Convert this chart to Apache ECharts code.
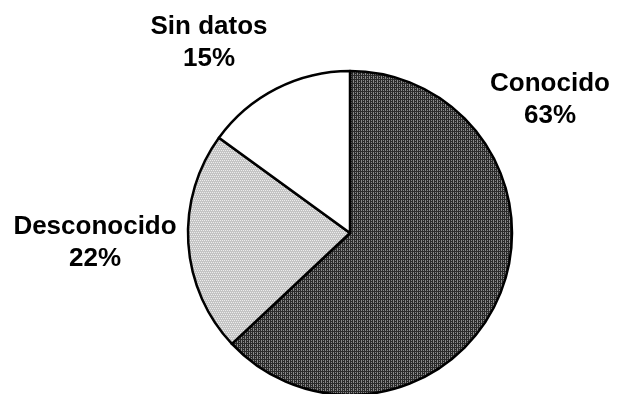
<!DOCTYPE html>
<html>
<head>
<meta charset="utf-8">
<script src="https://cdn.jsdelivr.net/npm/echarts@6/dist/echarts.min.js"></script>
<style>
html,body{margin:0;padding:0;background:#fff;}
#chart{width:618px;height:394px;}
</style>
</head>
<body>
<div id="chart"></div>
<script>
const categories = ['Conocido', 'Desconocido', 'Sin datos'];
const values = [63, 22, 15];

function makePattern(bg, fg, cells) {
  const c = document.createElement('canvas');
  c.width = 4; c.height = 4;
  const ctx = c.getContext('2d');
  ctx.fillStyle = bg; ctx.fillRect(0, 0, 4, 4);
  ctx.fillStyle = fg;
  cells.forEach(p => ctx.fillRect(p[0], p[1], 1, 1));
  return { image: c, repeat: 'repeat' };
}
const fills = [
  makePattern('#2a2a2a', '#8a8a8a', [[1,0],[3,0],[1,2],[3,2],[1,1]]),
  makePattern('#c4c4c4', '#ececec', [[0,0],[2,0],[1,2],[3,2]]),
  '#ffffff'
];
const labelPos = [[550, 100], [95, 243], [209, 43]];

const chart = echarts.init(document.getElementById('chart'), null, {renderer: 'canvas'});
chart.setOption({
  backgroundColor: '#ffffff',
  animation: false,
  series: [{
    type: 'pie',
    center: [350, 233],
    radius: 162,
    startAngle: 90,
    clockwise: true,
    data: categories.map((n, i) => ({
      name: n, value: values[i],
      itemStyle: { color: fills[i] }
    })),
    itemStyle: { borderColor: '#000', borderWidth: 2.5 },
    label: {
      show: true,
      position: 'outside',
      formatter: '{b}\n{d}%',
      fontFamily: 'Liberation Sans, Arial, sans-serif',
      fontWeight: 'bold',
      fontSize: 26,
      lineHeight: 32,
      color: '#000',
      align: 'center',
      overflow: 'none',
      width: 300
    },
    labelLine: { show: false },
    labelLayout: function (p) {
      const pos = labelPos[p.dataIndex];
      return { x: pos[0], y: pos[1], align: 'center', verticalAlign: 'middle' };
    },
    emphasis: { disabled: true }
  }]
});
</script>
</body>
</html>
